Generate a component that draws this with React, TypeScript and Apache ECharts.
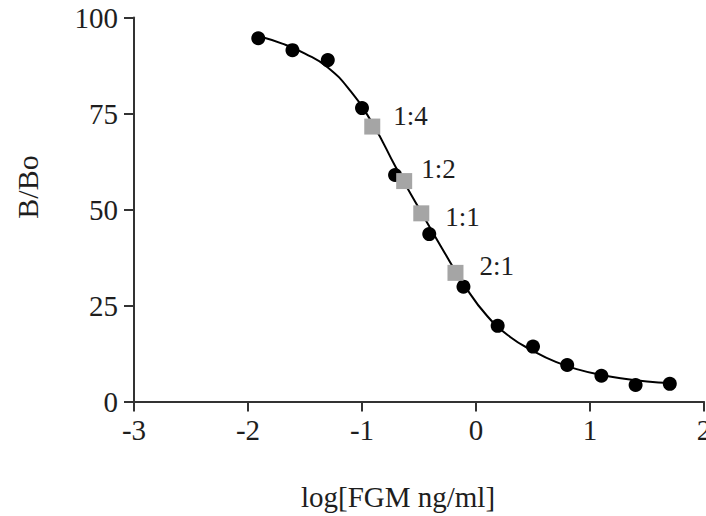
import React, { useEffect, useRef } from "react";
import * as echarts from "echarts";

// Standard points (log concentration, B/Bo %)
const stdX = [-1.91, -1.61, -1.3, -1.0, -0.71, -0.41, -0.11, 0.19, 0.5, 0.8, 1.1, 1.4, 1.7];
const stdY = [94.6, 91.5, 88.9, 76.4, 59.0, 43.6, 29.9, 19.7, 14.3, 9.5, 6.7, 4.3, 4.6];

// Sample dilutions
const dilNames = ["1:4", "1:2", "1:1", "2:1"];
const dilX = [-0.91, -0.63, -0.48, -0.18];
const dilY = [71.6, 57.4, 49.0, 33.5];

// Fitted curve
const curveX = [-1.91, -1.7, -1.5, -1.3, -1.1, -0.9, -0.7, -0.5, -0.3, -0.1, 0.1, 0.3, 0.5, 0.7, 0.9, 1.1, 1.3, 1.5, 1.7];
const curveY = [95.2, 93.2, 90.6, 87.0, 80.8, 72.0, 60.8, 50.3, 40.0, 30.2, 22.2, 16.8, 13.2, 10.3, 8.3, 6.9, 5.9, 5.2, 4.8];

const xTicks = { min: -3, max: 2, interval: 1 };
const yTicks = { min: 0, max: 100, interval: 25 };

const labelOffsets: [number, number][] = [
  [13, -11],
  [9, -12],
  [16, 4],
  [16, -7],
];

const FONT = '"Liberation Serif", "Times New Roman", serif';
const TXT = "#1e1e1e";

export default function App() {
  const ref = useRef<HTMLDivElement>(null);
  useEffect(() => {
    if (!ref.current) return;
    const chart = echarts.init(ref.current, null, { renderer: "svg" });
    chart.setOption({
      animation: false,
      backgroundColor: "#ffffff",
      grid: {
        left: 134,
        right: 2,
        top: 17.5,
        bottom: 114.5,
        containLabel: false,
        outerBoundsMode: "none",
      },
      xAxis: {
        type: "value",
        min: xTicks.min,
        max: xTicks.max,
        interval: xTicks.interval,
        axisLine: { show: true, onZero: false, lineStyle: { color: "#333", width: 2 } },
        axisTick: { show: true, length: 10, lineStyle: { color: "#333", width: 2 } },
        axisLabel: { color: TXT, fontFamily: FONT, fontSize: 29, margin: 14 },
        splitLine: { show: false },
      },
      yAxis: {
        type: "value",
        min: yTicks.min,
        max: yTicks.max,
        interval: yTicks.interval,
        axisLine: { show: true, onZero: false, lineStyle: { color: "#333", width: 2 } },
        axisTick: { show: true, length: 10, lineStyle: { color: "#333", width: 2 } },
        axisLabel: { color: TXT, fontFamily: FONT, fontSize: 29, margin: 16 },
        splitLine: { show: false },
      },
      graphic: [
        {
          type: "text",
          x: 398,
          y: 497,
          style: {
            text: "log[FGM ng/ml]",
            fill: TXT,
            font: `29px ${FONT}`,
            textAlign: "center",
            textVerticalAlign: "middle",
          },
        },
        {
          type: "text",
          x: 27,
          y: 187,
          rotation: Math.PI / 2,
          style: {
            text: "B/Bo",
            fill: TXT,
            font: `30px ${FONT}`,
            textAlign: "center",
            textVerticalAlign: "middle",
          },
        },
      ],
      series: [
        {
          type: "line",
          data: curveX.map((x, i) => [x, curveY[i]]),
          smooth: true,
          showSymbol: false,
          symbol: "none",
          lineStyle: { color: "#000", width: 2 },
          z: 2,
        },
        {
          type: "scatter",
          data: stdX.map((x, i) => [x, stdY[i]]),
          symbol: "circle",
          symbolSize: 14,
          itemStyle: { color: "#000", opacity: 1 },
          z: 3,
        },
        {
          type: "scatter",
          data: dilX.map((x, i) => ({
            name: dilNames[i],
            value: [x, dilY[i]],
            label: { offset: labelOffsets[i] },
          })),
          symbol: "rect",
          symbolSize: 16,
          itemStyle: { color: "#a5a5a5", opacity: 1 },
          label: {
            show: true,
            position: "right",
            distance: 0,
            formatter: (p: any) => p.name,
            color: TXT,
            fontFamily: FONT,
            fontSize: 27,
          },
          z: 4,
        },
      ],
    });
    return () => chart.dispose();
  }, []);
  return (
    <div
      ref={ref}
      style={{ position: "absolute", left: 0, top: 0, width: 706, height: 516 }}
    />
  );
}
